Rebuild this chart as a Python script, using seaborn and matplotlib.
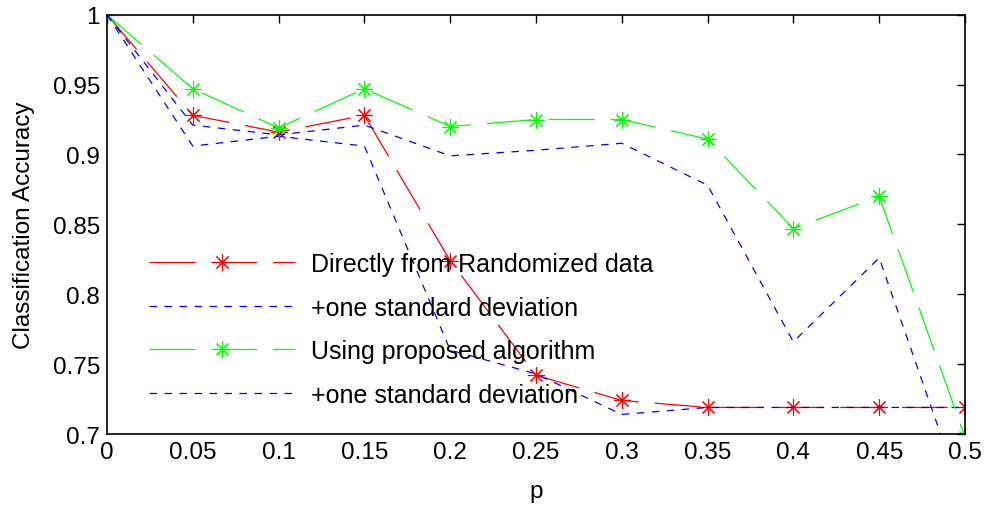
import numpy as np
import pandas as pd
import seaborn as sns
import matplotlib
matplotlib.use("Agg")
import matplotlib.pyplot as plt
from matplotlib.lines import Line2D

p = [0, 0.05, 0.1, 0.15, 0.2, 0.25, 0.3, 0.35, 0.4, 0.45, 0.5]
direct = [1.0, 0.928, 0.916, 0.928, 0.824, 0.742, 0.724, 0.719, 0.719, 0.719, 0.719]
direct_std = [1.0, 0.906, 0.913, 0.906, 0.760, 0.743, 0.714, 0.719, 0.719, 0.719, 0.719]
proposed = [1.0, 0.947, 0.919, 0.947, 0.920, 0.925, 0.925, 0.911, 0.847, 0.870, 0.698]
proposed_std = [1.0, 0.921, 0.914, 0.921, 0.899, 0.903, 0.908, 0.878, 0.766, 0.826, 0.650]

xtick_labels = ["0", "0.05", "0.1", "0.15", "0.2", "0.25", "0.3", "0.35", "0.4", "0.45", "0.5"]
ytick_values = [0.7, 0.75, 0.8, 0.85, 0.9, 0.95, 1.0]
ytick_labels = ["0.7", "0.75", "0.8", "0.85", "0.9", "0.95", "1"]
labels = ["Directly from Randomized data", "+one standard deviation",
          "Using proposed algorithm", "+one standard deviation"]

sns.set_style("white")
plt.rcParams['font.family'] = ['Liberation Sans', 'DejaVu Sans']
plt.rcParams['lines.scale_dashes'] = False
plt.rcParams['text.color'] = 'black'
plt.rcParams['axes.labelcolor'] = 'black'
plt.rcParams['xtick.color'] = 'black'
plt.rcParams['ytick.color'] = 'black'

RED, GREEN, BLUE = "#ff0000", "#00ff00", "#0000ff"
LONG = (33, 11.5)
SHORT = (5.4, 5.4)
LW = 0.9
star = (8, 2, 0)
MS = 12

fig = plt.figure(figsize=(9.87, 5.06), dpi=100)
ax = fig.add_axes([0.1084, 0.1403, 0.8693, 0.8287])

df = pd.DataFrame({"p": p, "direct": direct, "direct_std": direct_std,
                   "proposed": proposed, "proposed_std": proposed_std})

sns.lineplot(data=df, x="p", y="direct", ax=ax, color=RED, lw=LW,
             marker=star, markersize=MS, markeredgecolor=RED, markeredgewidth=0.8)
ax.lines[-1].set_dashes(LONG)
sns.lineplot(data=df, x="p", y="direct_std", ax=ax, color=BLUE, lw=LW)
ax.lines[-1].set_dashes(SHORT)
sns.lineplot(data=df, x="p", y="proposed", ax=ax, color=GREEN, lw=LW,
             marker=star, markersize=MS, markeredgecolor=GREEN, markeredgewidth=0.8)
ax.lines[-1].set_dashes(LONG)
sns.lineplot(data=df, x="p", y="proposed_std", ax=ax, color=BLUE, lw=LW)
ax.lines[-1].set_dashes(SHORT)

ax.set_xlim(0, 0.5)
ax.set_ylim(0.7, 1.0)
ax.set_xticks(p)
ax.set_xticklabels(xtick_labels)
ax.set_yticks(ytick_values)
ax.set_yticklabels(ytick_labels)
ax.tick_params(direction="in", length=5.5, width=1, top=True, right=True,
               labelsize=17.5, color="black", labelcolor="black", pad=5)
for s in ax.spines.values():
    s.set_color("black")
    s.set_linewidth(1.2)
ax.set_xlabel("p", fontsize=17.5, labelpad=12, color="black")
ax.set_ylabel("Classification Accuracy", fontsize=17.5, labelpad=13, color="black")

handles = [
    Line2D([], [], color=RED, lw=LW, dashes=LONG, marker=star, markersize=MS, markeredgewidth=0.8),
    Line2D([], [], color=BLUE, lw=LW, dashes=SHORT),
    Line2D([], [], color=GREEN, lw=LW, dashes=LONG, marker=star, markersize=MS, markeredgewidth=0.8),
    Line2D([], [], color=BLUE, lw=LW, dashes=SHORT),
]
leg = ax.legend(handles, labels, loc="upper left", bbox_to_anchor=(0.049, 0.434),
                frameon=False, fontsize=18, handlelength=5.84, handletextpad=0.64,
                labelspacing=0.78, borderpad=0, borderaxespad=0, numpoints=1)
for t in leg.get_texts():
    t.set_color("black")

fig.savefig("out.png", dpi=100)
